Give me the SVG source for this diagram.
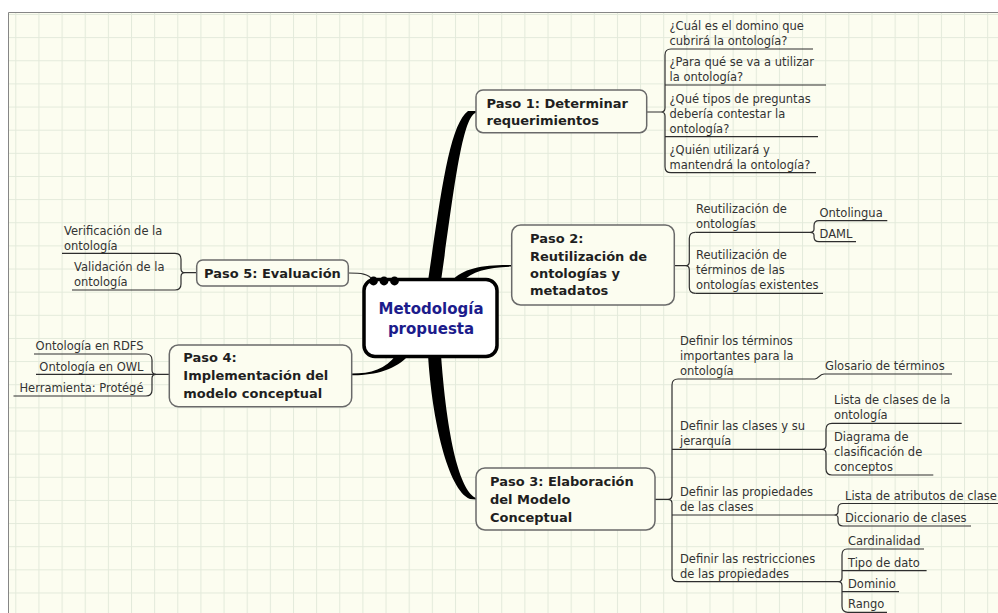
<svg xmlns="http://www.w3.org/2000/svg" width="998" height="613" viewBox="0 0 998 613">
  <style>
    .leaf{font-family:"DejaVu Sans",Verdana,sans-serif;font-size:11.5px;fill:#333}
    .main{font-family:"DejaVu Sans",Verdana,sans-serif;font-size:13px;font-weight:bold;fill:#1f1f1f}
    .core{font-family:"DejaVu Sans",Verdana,sans-serif;font-size:15px;font-weight:bold;fill:#1c1c8c}
    .box{fill:#fcfdf0;stroke:#6a6a6a;stroke-width:1.5}
    .ln{fill:none;stroke:#2e2e2e;stroke-width:1.2}
    .trunk{fill:#000}
  </style>
  <defs>
    <pattern id="grid" patternUnits="userSpaceOnUse" x="15.3" y="14" width="23.14" height="23.14">
      <rect width="23.14" height="23.14" fill="#fcfdf0"/>
      <path d="M0.5,0V23.14M0,0.5H23.14" stroke="#e3eadb" stroke-width="1" fill="none"/>
    </pattern>
  </defs>

  <!-- page -->
  <rect width="998" height="613" fill="#ffffff"/>
  <rect x="8.5" y="12.5" width="990" height="601" fill="url(#grid)"/>
  <path d="M8.5,613V12.5H998" fill="none" stroke="#868686" stroke-width="1"/>

  <!-- connectors -->
  <g id="connectors">
    <!-- tapered trunks from the central topic -->
    <path class="trunk" d="M428,281 C442,185 450,125 468,111 L476,111 L476,112.8 C462,117 454,190 441,281 Z"/>
    <path class="trunk" d="M452,281 C462,268 485,264.5 511.7,265 L511.7,266.6 C488,267 471,272 463,281 Z"/>
    <path class="trunk" d="M428,355 C432,420 448,490 470,499 L476,499.6 L476,498 C462,492 448,450 441,355 Z"/>
    <path class="trunk" d="M396,355 C386,369 371,373.6 351.7,373.6 L351.7,375.2 C374,375.6 396,370 409,355 Z"/>
    <path class="ln" stroke-width="1.5" d="M348.3,273 C361,273 368,273.5 373,280"/>

    <!-- Paso 1 -->
    <path class="ln" d="M646.7,112H661 M671,49 Q665,49 665,55 V108 Q665,112 661,112 Q665,112 665,116 V166.7 Q665,172.7 671,172.7"/>
    <path class="ln" d="M671,49H813 M665,85H826 M665,136.7H818 M671,172.7H816"/>

    <!-- Paso 2 -->
    <path class="ln" d="M674.3,265.7H685.3 M695.3,232.3 Q689.3,232.3 689.3,238.3 V261.7 Q689.3,265.7 685.3,265.7 Q689.3,265.7 689.3,269.7 V287.3 Q689.3,293.3 695.3,293.3"/>
    <path class="ln" d="M695.3,232.3H810 M695.3,293.3H823"/>
    <path class="ln" d="M819,220.7 Q814,220.7 814,225.7 V229.3 Q814,232.3 810,232.3 Q814,232.3 814,235.3 V236.7 Q814,241.7 819,241.7"/>
    <path class="ln" d="M819,220.7H887.3 M819,241.7H856"/>

    <!-- Paso 3 -->
    <path class="ln" d="M655,499.3H668 M678,379 Q672,379 672,385 V495.3 Q672,499.3 668,499.3 Q672,499.3 672,503.3 V575.7 Q672,581.7 678,581.7"/>
    <path class="ln" d="M678,379H815 C819,379 819,374 824,374 H952 M672,449.3H822 M672,515H834 M678,581.7H838"/>
    <path class="ln" d="M832,423.3 Q826,423.3 826,429.3 V445.3 Q826,449.3 822,449.3 Q826,449.3 826,453.3 V469 Q826,475 832,475"/>
    <path class="ln" d="M832,423.3H961.7 M832,475H933.3"/>
    <path class="ln" d="M843,503.5 Q838,503.5 838,508.5 V512 Q838,515 834,515 Q838,515 838,518 V521 Q838,526 843,526"/>
    <path class="ln" d="M843,503.5H998 M843,526H971"/>
    <path class="ln" d="M847,549 Q842,549 842,555 V577.7 Q842,581.7 838,581.7 Q842,581.7 842,585.7 V606.3 Q842,612.3 848,612.3"/>
    <path class="ln" d="M847,549H924 M842,570.7H926.6 M842,591.7H899 M848,612.3H887"/>

    <!-- Paso 4 -->
    <path class="ln" d="M169.3,374.3H156 M146,354 Q152,354 152,360 V370.3 Q152,374.3 156,374.3 Q152,374.3 152,378.3 V390 Q152,396 146,396"/>
    <path class="ln" d="M34,354H146 M36,374.3H156 M13.5,396H146"/>

    <!-- Paso 5 -->
    <path class="ln" d="M196.7,272.7H185 M175,253.3 Q181,253.3 181,259.3 V268.7 Q181,272.7 185,272.7 Q181,272.7 181,276.7 V284 Q181,290 175,290"/>
    <path class="ln" d="M62,253.3H175 M72,290H175"/>
  </g>

  <!-- central topic -->
  <g id="central">
    <rect x="364" y="279.5" width="133" height="77" rx="11" fill="#ffffff" stroke="#000" stroke-width="3.5"/>
    <circle cx="373.5" cy="281" r="4.4" fill="#000"/>
    <circle cx="384" cy="281" r="4.4" fill="#000"/>
    <circle cx="394.5" cy="281" r="4.4" fill="#000"/>
    <text class="core" text-anchor="middle"><tspan x="431" y="314">Metodología</tspan><tspan x="431" y="333.5">propuesta</tspan></text>
  </g>

  <!-- main topics -->
  <g id="paso1">
    <rect class="box" x="476" y="90" width="170.7" height="42.7" rx="7"/>
    <text class="main"><tspan x="486.5" y="107.5">Paso 1: Determinar</tspan><tspan x="486.5" y="125">requerimientos</tspan></text>
  </g>
  <g id="paso2">
    <rect class="box" x="511.7" y="225" width="162.6" height="80" rx="9"/>
    <text class="main"><tspan x="530" y="243.3">Paso 2:</tspan><tspan x="530" y="260.7">Reutilización de</tspan><tspan x="530" y="278">ontologías y</tspan><tspan x="530" y="295.3">metadatos</tspan></text>
  </g>
  <g id="paso3">
    <rect class="box" x="476" y="468" width="179" height="62" rx="9"/>
    <text class="main"><tspan x="490" y="485.5">Paso 3: Elaboración</tspan><tspan x="490" y="503.5">del Modelo</tspan><tspan x="490" y="521.5">Conceptual</tspan></text>
  </g>
  <g id="paso4">
    <rect class="box" x="169.3" y="345" width="182.4" height="61.7" rx="9"/>
    <text class="main"><tspan x="183.3" y="362">Paso 4:</tspan><tspan x="183.3" y="380">Implementación del</tspan><tspan x="183.3" y="398">modelo conceptual</tspan></text>
  </g>
  <g id="paso5">
    <rect class="box" x="196.7" y="260" width="151.6" height="26" rx="6"/>
    <text class="main" x="204" y="277.5">Paso 5: Evaluación</text>
  </g>

  <!-- Paso 1 subtopics -->
  <g id="p1-dominio"><text class="leaf"><tspan x="669.5" y="30">¿Cuál es el domino que</tspan><tspan x="669.5" y="45">cubrirá la ontología?</tspan></text></g>
  <g id="p1-uso"><text class="leaf"><tspan x="669.5" y="66">¿Para qué se va a utilizar</tspan><tspan x="669.5" y="81">la ontología?</tspan></text></g>
  <g id="p1-preguntas"><text class="leaf"><tspan x="669.5" y="102.5">¿Qué tipos de preguntas</tspan><tspan x="669.5" y="117.5">debería contestar la</tspan><tspan x="669.5" y="132.5">ontología?</tspan></text></g>
  <g id="p1-quien"><text class="leaf"><tspan x="669.5" y="153.7">¿Quién utilizará y</tspan><tspan x="669.5" y="168.7">mantendrá la ontología?</tspan></text></g>

  <!-- Paso 2 subtopics -->
  <g id="p2-ontologias"><text class="leaf"><tspan x="696" y="213">Reutilización de</tspan><tspan x="696" y="228">ontologías</tspan></text></g>
  <g id="p2-ontolingua"><text class="leaf" x="819.5" y="216.7">Ontolingua</text></g>
  <g id="p2-daml"><text class="leaf" x="819.5" y="237.7">DAML</text></g>
  <g id="p2-terminos"><text class="leaf"><tspan x="696" y="258.5">Reutilización de</tspan><tspan x="696" y="273.7">términos de las</tspan><tspan x="696" y="289">ontologías existentes</tspan></text></g>

  <!-- Paso 5 subtopics -->
  <g id="p5-verificacion"><text class="leaf"><tspan x="64" y="234.5">Verificación de la</tspan><tspan x="64" y="249.5">ontología</tspan></text></g>
  <g id="p5-validacion"><text class="leaf"><tspan x="74" y="271">Validación de la</tspan><tspan x="74" y="286">ontología</tspan></text></g>

  <!-- Paso 4 subtopics -->
  <g id="p4-rdfs"><text class="leaf" x="143.5" y="350" text-anchor="end">Ontología en RDFS</text></g>
  <g id="p4-owl"><text class="leaf" x="143.5" y="370.5" text-anchor="end">Ontología en OWL</text></g>
  <g id="p4-protege"><text class="leaf" x="143.5" y="392" text-anchor="end">Herramienta: Protégé</text></g>

  <!-- Paso 3 subtopics -->
  <g id="p3-terminos"><text class="leaf"><tspan x="680" y="344.5">Definir los términos</tspan><tspan x="680" y="359.5">importantes para la</tspan><tspan x="680" y="374.5">ontología</tspan></text></g>
  <g id="p3-glosario"><text class="leaf" x="825" y="370.3">Glosario de términos</text></g>
  <g id="p3-clases"><text class="leaf"><tspan x="680" y="430.3">Definir las clases y su</tspan><tspan x="680" y="445.3">jerarquía</tspan></text></g>
  <g id="p3-lista-clases"><text class="leaf"><tspan x="834" y="404.3">Lista de clases de la</tspan><tspan x="834" y="419.3">ontología</tspan></text></g>
  <g id="p3-diagrama"><text class="leaf"><tspan x="834" y="441">Diagrama de</tspan><tspan x="834" y="456">clasificación de</tspan><tspan x="834" y="471">conceptos</tspan></text></g>
  <g id="p3-propiedades"><text class="leaf"><tspan x="680" y="496">Definir las propiedades</tspan><tspan x="680" y="511">de las clases</tspan></text></g>
  <g id="p3-atributos"><text class="leaf" x="845" y="499.5">Lista de atributos de clase</text></g>
  <g id="p3-diccionario"><text class="leaf" x="845" y="522">Diccionario de clases</text></g>
  <g id="p3-restricciones"><text class="leaf"><tspan x="680" y="562.7">Definir las restricciones</tspan><tspan x="680" y="577.7">de las propiedades</tspan></text></g>
  <g id="p3-cardinalidad"><text class="leaf" x="848" y="545">Cardinalidad</text></g>
  <g id="p3-tipo"><text class="leaf" x="848" y="566.7">Tipo de dato</text></g>
  <g id="p3-dominio"><text class="leaf" x="848" y="587.7">Dominio</text></g>
  <g id="p3-rango"><text class="leaf" x="848" y="608.3">Rango</text></g>
</svg>
